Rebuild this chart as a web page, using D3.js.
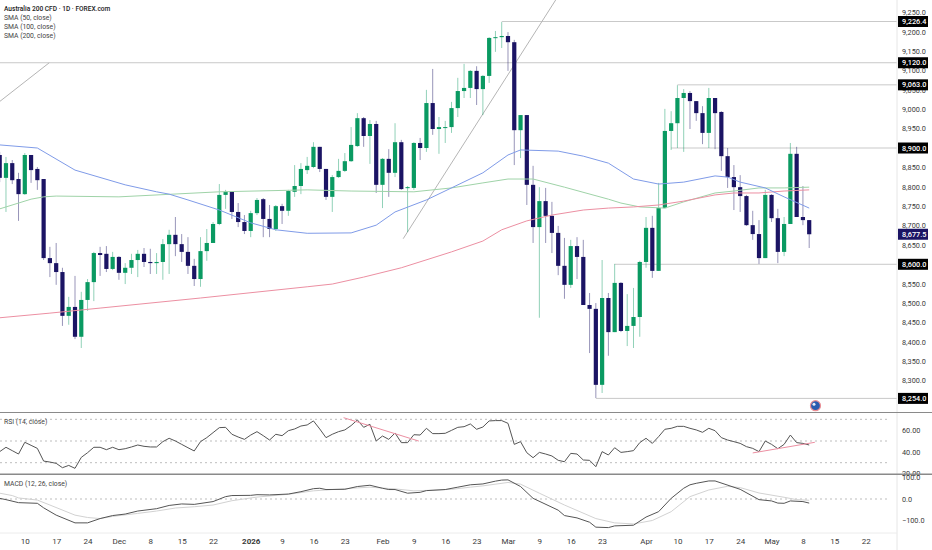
<!DOCTYPE html>
<html>
<head>
<meta charset="utf-8">
<script src="https://cdn.jsdelivr.net/npm/d3@7"></script>
<style>
  body { margin: 0; background: #fff; }
  svg { display: block; font-family: Roboto, sans-serif; }
</style>
</head>
<body>
<svg width="932" height="550"></svg>
<script>
// candles, one entry per trading day
const opens = [8882,8823,8861,8820,8781,8882,8846,8820,8616,8603,8580,8467,8490,8413,8508,8554,8629,8627,8588,8619,8578,8591,8611,8627,8606,8603,8606,8652,8676,8652,8632,8596,8562,8634,8655,8704,8779,8787,8735,8709,8686,8732,8768,8717,8691,8750,8738,8787,8802,8843,8851,8903,8846,8774,8825,8841,8866,8905,8977,8931,8962,8805,8872,8836,8915,8797,8797,8913,8900,9016,8949,8952,8954,9003,9047,9055,9099,9052,9086,9184,9186,9189,9173,8946,8985,8805,8696,8763,8725,8681,8596,8547,8647,8619,8495,8485,8289,8513,8425,8552,8428,8441,8464,8606,8694,8583,8745,8944,8964,9029,9042,9021,8990,8939,9029,8993,8879,8825,8799,8776,8701,8678,8616,8779,8719,8632,8704,8885,8722,8714];
const highs = [8890,8877,8869,8836,8887,8882,8851,8820,8645,8655,8591,8516,8570,8529,8562,8632,8645,8647,8632,8621,8603,8627,8637,8642,8640,8629,8665,8689,8722,8678,8670,8614,8670,8691,8709,8807,8792,8787,8758,8727,8738,8771,8771,8753,8753,8756,8792,8856,8861,8877,8915,8903,8846,8830,8872,8887,8954,8990,8980,8972,8970,8874,8897,8964,8921,8802,8915,8926,9050,9104,8980,8970,9019,9081,9117,9101,9111,9088,9186,9202,9225,9199,9179,8985,8985,8854,8799,8797,8761,8699,8668,8663,8670,8663,8526,8500,8611,8526,8601,8554,8523,8539,8609,8722,8725,8810,9001,8995,9062,9052,9047,9021,9008,9055,9029,8995,8900,8856,8830,8779,8738,8714,8792,8781,8743,8722,8913,8903,8802,8714];
const lows = [8812,8735,8807,8712,8779,8810,8792,8611,8567,8547,8441,8444,8407,8384,8480,8505,8570,8580,8585,8560,8549,8575,8567,8593,8575,8575,8560,8575,8621,8606,8575,8544,8542,8609,8655,8701,8743,8717,8696,8678,8670,8727,8670,8670,8686,8704,8725,8774,8781,8833,8848,8838,8766,8735,8823,8838,8864,8903,8903,8859,8784,8745,8774,8825,8792,8683,8792,8869,8890,8934,8885,8913,8939,8980,9029,9029,9011,8985,9068,9148,9158,9099,8856,8874,8753,8655,8462,8655,8629,8572,8511,8539,8562,8495,8371,8255,8268,8364,8425,8425,8389,8384,8413,8591,8565,8583,8745,8895,8900,8890,8949,8970,8910,8900,8897,8841,8797,8740,8735,8699,8663,8601,8616,8709,8603,8621,8704,8722,8701,8642];
const closes = [8823,8861,8817,8781,8882,8843,8817,8616,8603,8580,8467,8490,8413,8508,8554,8629,8624,8588,8619,8578,8591,8611,8627,8606,8603,8606,8652,8676,8652,8632,8596,8562,8634,8655,8704,8779,8787,8735,8709,8686,8732,8766,8717,8691,8750,8738,8789,8802,8846,8854,8903,8846,8774,8825,8841,8866,8908,8977,8931,8962,8805,8872,8836,8915,8794,8799,8913,8900,9016,8949,8954,8954,9003,9047,9055,9099,9052,9086,9184,9186,9189,9173,8946,8985,8805,8696,8763,8725,8681,8596,8547,8647,8619,8495,8485,8289,8513,8425,8552,8428,8441,8464,8606,8694,8583,8745,8944,8964,9029,9042,9021,8990,8939,9029,8990,8879,8825,8799,8776,8701,8678,8616,8779,8719,8632,8704,8885,8722,8714,8677.5];

// moving averages, read at the bars where they bend
const sma50Bars = [0,6,12,20,25,27,30,35,40,44,49,56,60,63,68,77,81,83,89,93,97,101,105,109,114,116,118,122,125,129];
const sma50 = [8908,8900,8843,8805,8787,8781,8766,8740,8707,8689,8680,8681,8701,8735,8766,8836,8882,8895,8892,8879,8861,8820,8807,8812,8828,8825,8812,8797,8774,8745];
const sma100Bars = [0,5,7,9,19,35,49,56,66,72,77,81,85,90,97,99,102,106,109,114,117,121,125,129];
const sma100 = [8743,8768,8774,8776,8774,8787,8792,8789,8787,8797,8810,8820,8820,8799,8768,8758,8748,8745,8761,8784,8789,8797,8797,8799];
const sma200Bars = [0,8,16,32,49,53,58,64,72,77,80,84,88,93,97,101,105,109,114,117,121,125,129];
const sma200 = [8462,8474,8487,8513,8542,8549,8567,8591,8632,8660,8689,8712,8727,8740,8745,8748,8753,8763,8779,8784,8784,8789,8792];

const rsi = [40.2,44.2,41.1,38,48.8,46,43.2,31.5,30.6,29.4,25.4,27.5,24.8,34.9,39.2,44.2,44.2,42,44.2,42,42.9,44.5,46.3,45.1,44.5,44.5,49.4,52.5,50,46.9,43.8,40.8,49.4,53.1,57.7,62.3,62.6,56.2,53.7,51.5,55.5,58.6,54.9,50.9,56.2,54.9,59.5,61.1,63.8,64.8,68.5,61.1,53.1,56.2,58.6,60.2,64.2,69.4,62.6,65.4,50,54.6,51.5,57.4,48.5,48.5,55.8,55.5,61.7,56.8,56.8,57.1,59.8,62.6,63.2,65.7,60.8,62.9,68.5,68.8,68.8,66.3,46.9,49.4,39.2,34.6,39.5,38,36.2,32.2,30.9,38.6,38,32.5,32.2,26.3,40.2,37.1,43.8,39.5,40.2,41.1,48.5,52.5,47.8,54,60.8,61.7,63.5,63.5,61.7,60.2,58,61.7,59.5,53.1,50.9,49.4,47.8,44.8,43.2,40.2,50,46.9,42.9,46.9,55.5,48.5,47.8,46.3];

const macdBars = [0,1,3,6,7,9,12,14,16,18,20,22,25,27,29,31,34,36,37,40,41,43,46,48,50,51,52,55,57,59,61,62,63,65,67,68,71,73,75,77,79,80,81,83,85,89,90,92,94,95,97,98,101,103,105,107,109,110,111,113,114,118,121,123,124,125,126,128,129];
const macd = [3,-3,-17,-20,-41,-75,-111,-111,-91,-77,-70,-56,-45,-30,-23,-25,-12,11,16,17,20,19,23,34,48,50,44,45,58,64,50,44,44,27,31,39,44,55,66,70,83,88,89,58,3,-52,-77,-88,-108,-131,-133,-125,-122,-84,-59,3,50,66,73,84,84,45,-3,-9,-19,-20,-9,-12,-19];
const signalBars = [0,2,3,6,8,12,14,16,18,22,25,28,31,34,37,41,46,50,53,56,59,63,66,69,72,75,77,81,83,86,90,95,98,101,104,107,110,113,116,118,121,125,127,129];
const signal = [27,16,5,-5,-28,-75,-86,-91,-81,-67,-56,-42,-36,-28,-8,9,22,38,44,50,55,47,38,41,45,55,61,77,69,27,-28,-91,-111,-116,-100,-59,11,42,59,53,28,8,-3,-6];

const priceTicks = [8300,8350,8400,8450,8500,8550,8600,8650,8700,8750,8800,8850,8900,8950,9000,9050,9100,9150,9200,9250];
const rsiTicks = [20,40,60];
const rsiBands = [30,50,70];
const macdTicks = [-100,0,100];

// horizontal levels on the price pane, startBar is where the ray begins
const levelPrices = [9226.4,9120,9063,8900,8600,8254];
const levelStartBars = [80,-5,108,107,98,95];
const lastPrice = 8677.5;

const timeTickBars = [4,9,14,19,24,29,34,40,45,50,55,61,66,71,76,81,86,91,96,103,108,113,118,123,128,133,138];
const timeTickLabels = ['10','17','24','Dec','8','15','22','2026','9','16','23','Feb','9','16','23','Mar','9','16','23','Apr','10','17','24','May','8','15','22'];

const legendLines = ['SMA (50, close)','SMA (100, close)','SMA (200, close)'];

const COLORS = { up: '#0a9a62', down: '#1b1464', sma50: '#7f9be8', sma100: '#9fd3a8', sma200: '#ec8fa2', text: '#3a3a3a' };
const axisFont = 7.3;

const svg = d3.select('svg');
const axisX = 897;

const x = d3.scaleLinear().domain([0, 129]).range([-0.3, 809.2]);
const yPrice = d3.scaleLinear().domain([8254, 9226.4]).range([398.4, 21.5]);
const yRsi = d3.scaleLinear().domain([30, 70]).range([462.7, 419.3]);
const yMacd = d3.scaleLinear().domain([-100, 100]).range([520.5, 477.5]);

const candles = closes.map((c, i) => ({ i, o: opens[i], h: highs[i], l: lows[i], c }));
const candleColor = d => d.c >= d.o ? COLORS.up : COLORS.down;

// levels and drawn trend lines go under the candles
svg.append('g').selectAll('line')
  .data(levelPrices)
  .enter().append('line')
    .attr('x1', (d, i) => x(levelStartBars[i]))
    .attr('x2', axisX)
    .attr('y1', d => yPrice(d))
    .attr('y2', d => yPrice(d))
    .attr('stroke', '#c9c9c9');

const trendBars = [[-0.0, 7.9, 9020, 9120], [64.3, 88.8, 8666, 9287]];
svg.append('g').selectAll('line')
  .data(trendBars)
  .enter().append('line')
    .attr('x1', d => x(d[0]))
    .attr('x2', d => x(d[1]))
    .attr('y1', d => yPrice(d[2]))
    .attr('y2', d => yPrice(d[3]))
    .attr('stroke', '#b5b5b5');

// wicks then bodies
svg.append('g').selectAll('line')
  .data(candles)
  .enter().append('line')
    .attr('x1', d => x(d.i))
    .attr('x2', d => x(d.i))
    .attr('y1', d => yPrice(d.h))
    .attr('y2', d => yPrice(d.l))
    .attr('stroke', candleColor)
    .attr('stroke-opacity', 0.45);

svg.append('g').selectAll('rect')
  .data(candles)
  .enter().append('rect')
    .attr('x', d => x(d.i) - 2.1)
    .attr('width', 4.2)
    .attr('y', d => yPrice(Math.max(d.o, d.c)))
    .attr('height', d => Math.max(1, Math.abs(yPrice(d.o) - yPrice(d.c))))
    .attr('fill', candleColor);

const drawLine = (bars, values, yScale, color) => {
  svg.append('path')
    .datum(values)
    .attr('fill', 'none')
    .attr('stroke', color)
    .attr('stroke-width', 1)
    .attr('d', d3.line().x((d, i) => x(bars[i])).y(d => yScale(d)));
};

drawLine(sma100Bars, sma100, yPrice, COLORS.sma100);
drawLine(sma200Bars, sma200, yPrice, COLORS.sma200);
drawLine(sma50Bars, sma50, yPrice, COLORS.sma50);

// price axis, the level boxes sit over it
svg.append('g')
  .attr('transform', `translate(${axisX},0)`)
  .call(d3.axisRight(yPrice).tickValues(priceTicks).tickFormat(d3.format(',.1f')).tickSize(0).tickPadding(5))
  .call(g => g.select('.domain').remove())
  .selectAll('text')
    .attr('font-size', axisFont)
    .attr('font-family', 'Roboto, sans-serif')
    .attr('fill', COLORS.text);

const drawTag = (price, color) => {
  svg.append('rect')
    .attr('x', axisX + 1)
    .attr('y', yPrice(price) - 5.5)
    .attr('width', 30)
    .attr('height', 11)
    .attr('fill', color);
  svg.append('text')
    .attr('x', axisX + 5)
    .attr('y', yPrice(price))
    .attr('dy', '0.35em')
    .attr('font-size', axisFont)
    .attr('font-weight', 500)
    .attr('fill', '#fff')
    .text(d3.format(',.1f')(price));
};
levelPrices.forEach(p => drawTag(p, '#000'));
drawTag(lastPrice, COLORS.down);

// RSI pane
svg.append('g').selectAll('line')
  .data(rsiBands)
  .enter().append('line')
    .attr('x1', 0)
    .attr('x2', 890)
    .attr('y1', d => yRsi(d))
    .attr('y2', d => yRsi(d))
    .attr('stroke', '#bdbdbd')
    .attr('stroke-dasharray', '2,3');

drawLine(rsi.map((d, i) => i), rsi, yRsi, '#555');

const rsiTrends = [[54.8, 66.8, 71.5, 49.9], [120, 129.9, 39, 48.8]];
svg.append('g').selectAll('line')
  .data(rsiTrends)
  .enter().append('line')
    .attr('x1', d => x(d[0]))
    .attr('x2', d => x(d[1]))
    .attr('y1', d => yRsi(d[2]))
    .attr('y2', d => yRsi(d[3]))
    .attr('stroke', COLORS.sma200)
    .attr('stroke-width', 1);

svg.append('g')
  .attr('transform', `translate(${axisX},0)`)
  .call(d3.axisRight(yRsi).tickValues(rsiTicks).tickFormat(d3.format('.2f')).tickSize(0).tickPadding(5))
  .call(g => g.select('.domain').remove())
  .selectAll('text')
    .attr('font-size', axisFont)
    .attr('font-family', 'Roboto, sans-serif')
    .attr('fill', COLORS.text);

// MACD pane
svg.append('line')
  .attr('x1', 0)
  .attr('x2', 890)
  .attr('y1', yMacd(0))
  .attr('y2', yMacd(0))
  .attr('stroke', '#bdbdbd')
  .attr('stroke-dasharray', '2,3');

drawLine(signalBars, signal, yMacd, '#d2d2d2');
drawLine(macdBars, macd, yMacd, '#555');

svg.append('g')
  .attr('transform', `translate(${axisX},0)`)
  .call(d3.axisRight(yMacd).tickValues(macdTicks).tickFormat(d3.format('.1f')).tickSize(0).tickPadding(5))
  .call(g => g.select('.domain').remove())
  .selectAll('text')
    .attr('font-size', axisFont)
    .attr('font-family', 'Roboto, sans-serif')
    .attr('fill', COLORS.text);

// pane frames
svg.append('line').attr('x1', axisX).attr('x2', axisX).attr('y1', 0).attr('y2', 550).attr('stroke', '#e6e6e6');
svg.append('line').attr('x1', 0).attr('x2', 932).attr('y1', 412.5).attr('y2', 412.5).attr('stroke', '#8a8a8a');
svg.append('line').attr('x1', 0).attr('x2', 932).attr('y1', 474.3).attr('y2', 474.3).attr('stroke', '#8a8a8a').attr('stroke-width', 1.5);
svg.append('line').attr('x1', 0).attr('x2', axisX).attr('y1', 533).attr('y2', 533).attr('stroke', '#ececec');

// time axis
svg.append('g')
  .attr('transform', 'translate(0,533)')
  .call(d3.axisBottom(x).tickValues(timeTickBars).tickFormat((d, i) => timeTickLabels[i]).tickSize(0).tickPadding(5))
  .call(g => g.select('.domain').remove())
  .selectAll('text')
    .attr('font-size', 8)
    .attr('font-family', 'Roboto, sans-serif')
    .attr('font-weight', (d, i) => timeTickLabels[i] === '2026' ? 700 : 400)
    .attr('fill', COLORS.text);

// earnings/event flag on the bar after the last candle
const flag = svg.append('g').attr('transform', `translate(${x(130)},405.7)`);
flag.append('circle').attr('r', 5).attr('fill', '#2a5db0').attr('stroke', '#ec8f94').attr('stroke-width', 1.2);
flag.append('circle').attr('cx', -1.5).attr('cy', -1.5).attr('r', 1.5).attr('fill', '#e8eef8');

// legends
svg.append('text')
  .attr('x', 4).attr('y', 11)
  .attr('font-size', 6.6).attr('font-weight', 500).attr('fill', '#222')
  .text('Australia 200 CFD · 1D · FOREX.com');

svg.append('g').selectAll('text')
  .data(legendLines)
  .enter().append('text')
    .attr('x', 4)
    .attr('y', (d, i) => 20.2 + i * 9)
    .attr('font-size', 6.8)
    .attr('fill', '#444')
    .text(d => d);

svg.append('text').attr('x', 4).attr('y', 424).attr('font-size', 6.8).attr('fill', '#444').text('RSI (14, close)');
svg.append('text').attr('x', 4).attr('y', 486).attr('font-size', 6.8).attr('fill', '#444').text('MACD (12, 26, close)');
</script>
</body>
</html>
